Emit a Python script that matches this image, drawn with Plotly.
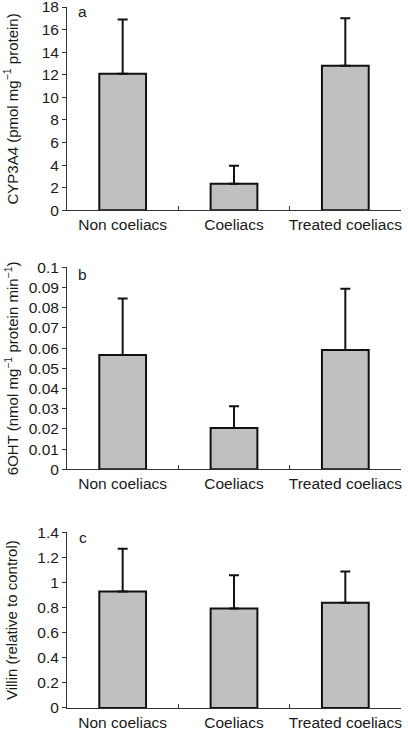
import plotly.graph_objects as go
from plotly.subplots import make_subplots

categories = ["Non coeliacs", "Coeliacs", "Treated coeliacs"]

cyp3a4_mean = [12.1, 2.35, 12.8]
cyp3a4_err = [4.8, 1.6, 4.2]

ohT_mean = [0.0566, 0.0204, 0.0591]
ohT_err = [0.0279, 0.0108, 0.0303]

villin_mean = [0.928, 0.792, 0.838]
villin_err = [0.342, 0.266, 0.249]

a_ticks = [0, 2, 4, 6, 8, 10, 12, 14, 16, 18]
a_ticktext = ["0", "2", "4", "6", "8", "10", "12", "14", "16", "18"]
b_ticks = [0, 0.01, 0.02, 0.03, 0.04, 0.05, 0.06, 0.07, 0.08, 0.09, 0.1]
b_ticktext = ["0", "0.01", "0.02", "0.03", "0.04", "0.05", "0.06", "0.07", "0.08", "0.09", "0.1"]
c_ticks = [0, 0.2, 0.4, 0.6, 0.8, 1.0, 1.2, 1.4]
c_ticktext = ["0", "0.2", "0.4", "0.6", "0.8", "1", "1.2", "1.4"]

y_titles = [
    "CYP3A4 (pmol mg<sup>−1</sup> protein)",
    "6OHT (nmol mg<sup>−1</sup> protein min<sup>−1</sup>)",
    "Villin (relative to control)",
]
panel_labels = ["a", "b", "c"]

FONT = "Liberation Sans, Arial, sans-serif"
TXT = "#1a1a1a"
FS = 15.5
FS_TITLE = 15

fig = make_subplots(rows=3, cols=1)

series = [(cyp3a4_mean, cyp3a4_err), (ohT_mean, ohT_err), (villin_mean, villin_err)]
for i, (m, e) in enumerate(series, start=1):
    fig.add_trace(
        go.Bar(
            x=categories, y=m, width=0.42,
            marker=dict(color="#c0c0c0", line=dict(color="#111111", width=2)),
            error_y=dict(type="data", symmetric=False, array=e, arrayminus=[0, 0, 0],
                         color="#111111", thickness=2, width=5),
            showlegend=False,
        ),
        row=i, col=1,
    )

domains = [[0.710, 1.0], [0.3405, 0.6287], [0.0, 0.2506]]
ranges = [[0, 18], [0, 0.1], [0, 1.4]]
ticks = [(a_ticks, a_ticktext), (b_ticks, b_ticktext), (c_ticks, c_ticktext)]
label_y = [0.993, 0.6177, 0.243]

for i in range(3):
    xa = "xaxis" if i == 0 else f"xaxis{i+1}"
    ya = "yaxis" if i == 0 else f"yaxis{i+1}"
    fig.layout[xa].update(
        domain=[0, 1], showline=True, linecolor="#333333", linewidth=1,
        ticks="inside", ticklen=4, tickcolor="#333333", tickson="boundaries",
        showgrid=False, zeroline=False, tickangle=0, automargin=False,
        ticklabeloverflow="allow",
        tickfont=dict(family=FONT, size=FS, color=TXT),
    )
    fig.layout[ya].update(
        domain=domains[i], range=ranges[i], showline=True, linecolor="#333333", linewidth=1,
        ticks="outside", ticklen=4, tickcolor="#333333", automargin=False,
        ticklabeloverflow="allow",
        tickvals=ticks[i][0], ticktext=ticks[i][1],
        showgrid=False, zeroline=False,
        tickfont=dict(family=FONT, size=FS, color=TXT),
    )
    yc = sum(domains[i]) / 2
    fig.add_annotation(
        xref="paper", yref="paper", x=-0.168, y=yc, text=y_titles[i], textangle=-90,
        showarrow=False, xanchor="center", yanchor="middle",
        font=dict(family=FONT, size=FS_TITLE, color=TXT),
    )
    fig.add_annotation(
        xref="paper", yref="paper", x=0.047, y=label_y[i], text=panel_labels[i],
        showarrow=False, xanchor="center", yanchor="middle",
        font=dict(family=FONT, size=FS, color=TXT),
    )

fig.update_layout(
    width=408, height=734,
    margin=dict(l=67, r=7, t=7, b=26),
    paper_bgcolor="white", plot_bgcolor="white",
    bargap=0.58,
)

fig.write_html("out.html", config={"displayModeBar": False},
               post_script="document.body.style.margin='0';")
